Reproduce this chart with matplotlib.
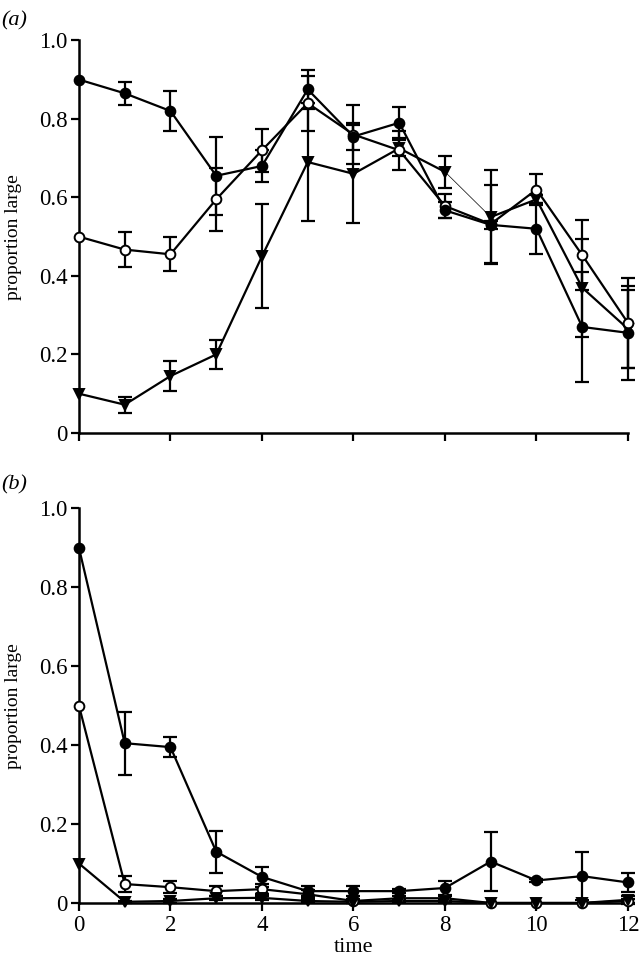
import numpy as np
import matplotlib.pyplot as plt
from matplotlib.ticker import FuncFormatter

plt.rcParams['font.family'] = ['Liberation Serif', 'DejaVu Serif']

time = np.arange(13)

# panel (a)
a_filled = [0.90, 0.865, 0.82, 0.655, 0.68, 0.875, 0.755, 0.79, 0.567, 0.53, 0.52, 0.27, 0.255]
a_filled_err = [0, 0.03, 0.05, 0.10, 0.04, 0.05, 0.035, 0.04, 0.02, 0.01, 0.065, 0.14, 0.12]
a_open = [0.50, 0.467, 0.455, 0.595, 0.72, 0.84, 0.76, 0.72, 0.578, 0.532, 0.62, 0.453, 0.28]
a_open_err = [0, 0.045, 0.043, 0.08, 0.055, 0.07, 0.075, 0.05, 0.03, 0.10, 0.04, 0.09, 0.115]
a_tri = [0.10, 0.072, 0.145, 0.20, 0.45, 0.69, 0.66, 0.725, 0.665, 0.55, 0.595, 0.37, 0.265]
a_tri_err = [0, 0.02, 0.037, 0.038, 0.133, 0.15, 0.125, 0.02, 0.04, 0.12, 0.01, 0.125, 0.10]

# panel (b)
b_filled = [0.90, 0.405, 0.395, 0.13, 0.066, 0.03, 0.03, 0.03, 0.038, 0.105, 0.057, 0.068, 0.052]
b_filled_err = [0, 0.08, 0.025, 0.053, 0.025, 0.012, 0.012, 0.005, 0.018, 0.075, 0.005, 0.06, 0.025]
b_open = [0.50, 0.048, 0.04, 0.03, 0.035, 0.022, 0.005, 0.012, 0.012, 0.0, 0.0, 0.0, 0.005]
b_open_err = [0, 0.02, 0.015, 0.012, 0.012, 0.01, 0.005, 0.005, 0.005, 0, 0, 0, 0.005]
b_tri = [0.10, 0.003, 0.005, 0.012, 0.013, 0.005, 0.003, 0.005, 0.005, 0.0, 0.0, 0.0, 0.008]
b_tri_err = [0, 0.003, 0.005, 0.005, 0.005, 0.003, 0.002, 0.002, 0.002, 0, 0, 0, 0.01]

fig = plt.figure(figsize=(6.41, 9.6), dpi=100)
ax_a = fig.add_axes([0.1232, 0.549, 0.8565, 0.409])
ax_b = fig.add_axes([0.1232, 0.0594, 0.8565, 0.411])


def series(ax, y, err, marker, face, thin_seg=None):
    y = np.array(y)
    err = np.array(err)
    m = err > 0
    ax.errorbar(time[m], y[m], yerr=err[m], fmt='none', ecolor='black',
                elinewidth=1.6, capsize=5, capthick=1.6, zorder=2, clip_on=False)
    if thin_seg is None:
        ax.plot(time, y, color='black', lw=1.6, zorder=3, clip_on=False)
    else:
        i = thin_seg
        ax.plot(time[:i + 1], y[:i + 1], color='black', lw=1.6, zorder=3, clip_on=False)
        ax.plot(time[i:i + 2], y[i:i + 2], color='black', lw=0.5, zorder=3, clip_on=False)
        ax.plot(time[i + 1:], y[i + 1:], color='black', lw=1.6, zorder=3, clip_on=False)
    ax.plot(time, y, ls='none', marker=marker, ms=7,
            mfc=face, mec='black', mew=1.4, zorder=4, clip_on=False)


series(ax_a, a_tri, a_tri_err, 'v', 'black', thin_seg=8)
series(ax_a, a_open, a_open_err, 'o', 'white')
series(ax_a, a_filled, a_filled_err, 'o', 'black')

series(ax_b, b_open, b_open_err, 'o', 'white')
series(ax_b, b_tri, b_tri_err, 'v', 'black')
series(ax_b, b_filled, b_filled_err, 'o', 'black')

fmt = FuncFormatter(lambda v, p: '0' if abs(v) < 1e-9 else f'{v:.1f}')
for ax in (ax_a, ax_b):
    ax.set_xlim(0, 12)
    ax.set_ylim(0, 1.0)
    ax.set_xticks(range(0, 13, 2))
    ax.set_yticks([0, 0.2, 0.4, 0.6, 0.8, 1.0])
    ax.yaxis.set_major_formatter(fmt)
    ax.spines['top'].set_visible(False)
    ax.spines['right'].set_visible(False)
    ax.spines['left'].set_linewidth(1.8)
    ax.spines['bottom'].set_linewidth(1.8)
    ax.tick_params(direction='out', length=6, width=1.6, labelsize=16.5, pad=2)
    ax.tick_params(axis='x', pad=3)
    ax.set_ylabel('proportion large', fontsize=14)
    ax.yaxis.set_label_coords(-0.104, 0.5)

ax_a.tick_params(axis='x', labelbottom=False)
ax_b.set_xlabel('time', fontsize=16, labelpad=1)

fig.text(0.002, 0.978, '(a)', fontsize=16, style='italic', va='center', ha='left')
fig.text(0.002, 0.495, '(b)', fontsize=16, style='italic', va='center', ha='left')

fig.savefig('out.png', dpi=100)
